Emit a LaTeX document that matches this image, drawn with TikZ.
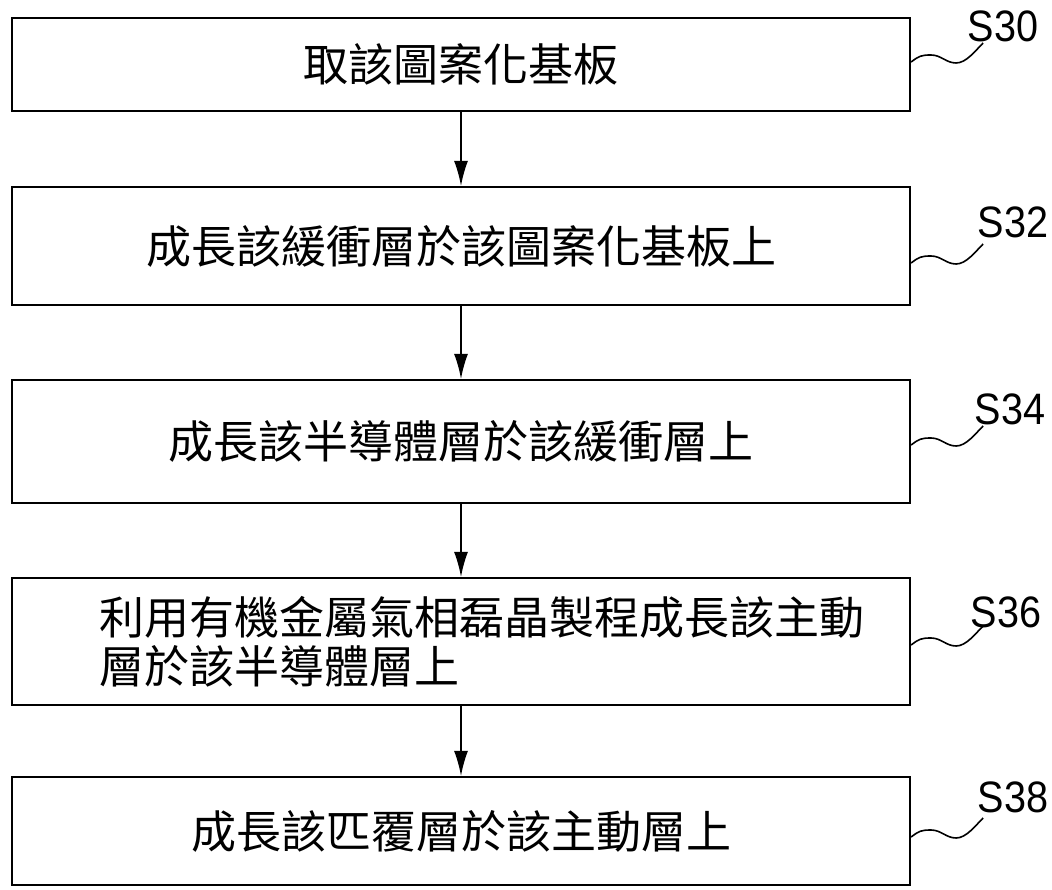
\documentclass[tikz,border=0pt]{standalone}
\usepackage{fontspec}
\setmainfont{Liberation Sans}
\newfontfamily\cjk{Noto Sans CJK TC}
\usetikzlibrary{arrows.meta}
\begin{document}
\begin{tikzpicture}[x=1pt,y=-1pt,
  stepbox/.style={draw, line width=2.2pt, minimum width=898pt, inner sep=0pt, font=\cjk\fontsize{45pt}{50pt}\selectfont},
  txt/.style={inner sep=0pt, align=left, font=\cjk\fontsize{45pt}{49pt}\selectfont},
  lbl/.style={inner sep=0pt, font=\fontsize{44pt}{48pt}\selectfont, xscale=0.9, transform shape},
  flow/.style={line width=1.6pt, -{Latex[length=25pt,width=14pt]}},
  squig/.style={line width=1.6pt}]
\useasboundingbox (0,0) rectangle (1052,890);
\node[stepbox, minimum height=93pt] (b1) at (461,64.5) {取該圖案化基板};
\node[stepbox, minimum height=118pt] (b2) at (461,246) {成長該緩衝層於該圖案化基板上};
\node[stepbox, minimum height=123pt] (b3) at (461,441.5) {成長該半導體層於該緩衝層上};
\node[stepbox, minimum height=127pt] (b4) at (461,641.5) {};
\node[txt, anchor=west] (t4) at ([xshift=88pt]b4.west) {利用有機金屬氣相磊晶製程成長該主動\\層於該半導體層上};
\node[stepbox, minimum height=108pt] (b5) at (461,831) {成長該匹覆層於該主動層上};
\draw[flow] (b1) -- (b2);
\draw[flow] (b2) -- (b3);
\draw[flow] (b3) -- (b4);
\draw[flow] (b4) -- (b5);
\node[lbl] (l30) at (1003,26) {S30};
\node[lbl] (l32) at (1013,222) {S32};
\node[lbl] (l34) at (1010,409) {S34};
\node[lbl] (l36) at (1006,612) {S36};
\node[lbl] (l38) at (1013,797) {S38};
\foreach \b/\s in {b1/2.5,b2/-17,b3/-3.5,b4/-3.5,b5/-6}{
  \draw[squig] ([yshift=\s pt]\b.east) .. controls +(8,-6) and +(-10,0) .. ++(20,-7)
     .. controls +(10,0) and +(-10,0) .. ++(25,8)
     .. controls +(10,0) and +(-8,8) .. ++(27,-20);
}
\end{tikzpicture}
\end{document}
